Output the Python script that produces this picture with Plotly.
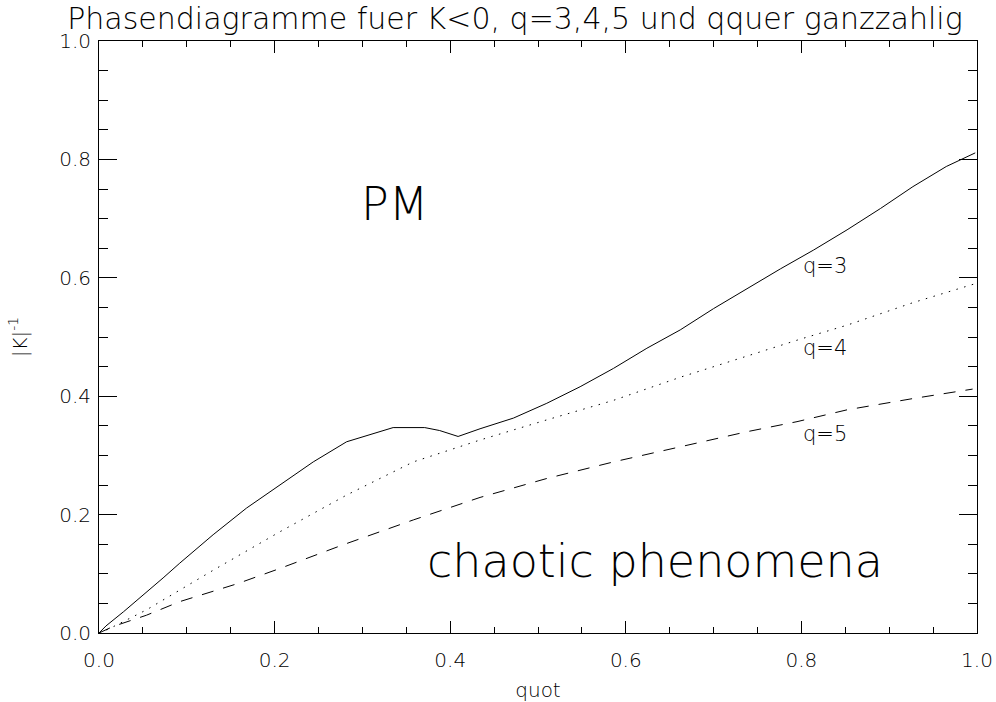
import plotly.graph_objects as go

# ---- data ----
q3_x = [0.000, 0.008, 0.028, 0.048, 0.073, 0.092, 0.130, 0.168, 0.206, 0.244, 0.282, 0.320,
        0.335, 0.371, 0.388, 0.409, 0.434, 0.472, 0.510, 0.548, 0.586, 0.624, 0.662, 0.700,
        0.738, 0.776, 0.814, 0.852, 0.890, 0.927, 0.965, 0.998]
q3_y = [0.000, 0.012, 0.036, 0.061, 0.093, 0.118, 0.166, 0.211, 0.250, 0.289, 0.323, 0.341,
        0.347, 0.347, 0.342, 0.332, 0.345, 0.363, 0.388, 0.416, 0.447, 0.481, 0.512, 0.548,
        0.582, 0.615, 0.647, 0.681, 0.717, 0.754, 0.788, 0.811]

q4_x = [0.000, 0.010, 0.054, 0.130, 0.206, 0.282, 0.358, 0.434, 0.510, 0.586, 0.662, 0.738,
        0.798, 0.852, 0.927, 1.000]
q4_y = [0.000, 0.006, 0.039, 0.106, 0.171, 0.233, 0.289, 0.326, 0.360, 0.393, 0.432, 0.468,
        0.496, 0.520, 0.558, 0.591]

q5_x = [0.000, 0.016, 0.054, 0.092, 0.157, 0.206, 0.278, 0.358, 0.434, 0.510, 0.586, 0.662,
        0.738, 0.795, 0.852, 0.927, 0.983, 0.995]
q5_y = [0.000, 0.011, 0.030, 0.053, 0.083, 0.109, 0.149, 0.191, 0.229, 0.261, 0.289, 0.315,
        0.340, 0.357, 0.377, 0.396, 0.410, 0.412]

x_ticks = [0.0, 0.2, 0.4, 0.6, 0.8, 1.0]
y_ticks = [0.0, 0.2, 0.4, 0.6, 0.8, 1.0]
tick_text = ["0.0", "0.2", "0.4", "0.6", "0.8", "1.0"]

title_text = "Phasendiagramme fuer K<0, q=3,4,5 und qquer ganzzahlig"
x_title = "quot"
y_title = "|K|<sup>-1</sup>"

labels = [  # (text, x, y, size)
    ("PM", 0.336, 0.724, 46),
    ("chaotic phenomena", 0.633, 0.122, 46),
]
curve_labels = [("q=3", 0.800, 0.620), ("q=4", 0.800, 0.481), ("q=5", 0.800, 0.337)]

FONT = "DejaVu Sans"
W = 200  # thin strokes, like the original vector font
fig = go.Figure()
fig.add_trace(go.Scatter(x=q3_x, y=q3_y, mode="lines", name="q=3",
                         line=dict(color="black", width=1)))
fig.add_trace(go.Scatter(x=q4_x, y=q4_y, mode="lines", name="q=4",
                         line=dict(color="black", width=1, dash="1.5px,6.5px")))
fig.add_trace(go.Scatter(x=q5_x, y=q5_y, mode="lines", name="q=5",
                         line=dict(color="black", width=1, dash="12px,10px")))

for t, x, y, s in labels:
    fig.add_annotation(x=x, y=y, xref="x", yref="y", text=t, showarrow=False,
                       xanchor="center", yanchor="middle",
                       font=dict(family=FONT, size=s, color="black", weight=W))
for t, x, y in curve_labels:
    fig.add_annotation(x=x, y=y, xref="x", yref="y", text=t, showarrow=False,
                       xanchor="left", yanchor="middle",
                       font=dict(family=FONT, size=21, color="black", weight=W))

axis_common = dict(showline=True, linecolor="black", linewidth=1, mirror="allticks",
                   ticks="inside", tickcolor="black", tickwidth=1, showgrid=False,
                   zeroline=False, layer="above traces", tickmode="array",
                   tickfont=dict(family=FONT, size=20, color="black", weight=W))

fig.update_xaxes(range=[0, 1], tickvals=x_ticks, ticktext=tick_text, ticklen=12,
                 ticklabelstandoff=9,
                 minor=dict(tickmode="linear", tick0=0, dtick=0.05, ticklen=6, ticks="inside",
                            tickcolor="black", tickwidth=1, showgrid=False),
                 title=dict(text=x_title, standoff=20,
                            font=dict(family=FONT, size=20, color="black", weight=W)),
                 **axis_common)
fig.update_yaxes(range=[0, 1], tickvals=y_ticks, ticktext=tick_text, ticklen=18,
                 ticklabelstandoff=3,
                 minor=dict(tickmode="linear", tick0=0, dtick=0.05, ticklen=9, ticks="inside",
                            tickcolor="black", tickwidth=1, showgrid=False),
                 title=dict(text=y_title, standoff=26,
                            font=dict(family=FONT, size=20, color="black", weight=W)),
                 **axis_common)

fig.update_layout(
    width=996, height=702,
    margin=dict(l=99, r=19, t=41, b=69, autoexpand=False),
    paper_bgcolor="white", plot_bgcolor="white",
    showlegend=False,
    title=dict(text=title_text, x=0.517, xref="container", xanchor="center",
               y=0.974, yref="container", yanchor="middle",
               font=dict(family=FONT, size=30, color="black", weight=W)),
)

fig.write_html("out.html", config={"displayModeBar": False},
               post_script="document.body.style.margin='0';")
